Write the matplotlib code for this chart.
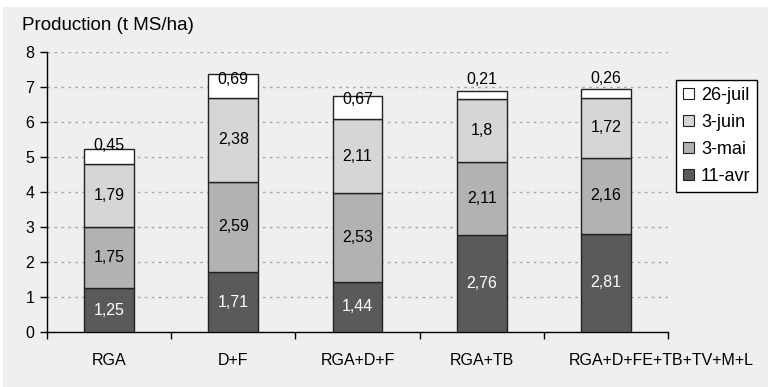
import matplotlib
matplotlib.use("Agg")
import matplotlib.pyplot as plt
from matplotlib.patches import Rectangle, Patch
import matplotlib.transforms as mtransforms
import numpy as np

plt.rcParams['font.family'] = ['Liberation Sans', 'DejaVu Sans']

categories = ["RGA", "D+F", "RGA+D+F", "RGA+TB", "RGA+D+FE+TB+TV+M+L"]
series_names = ["11-avr", "3-mai", "3-juin", "26-juil"]
avr11 = [1.25, 1.71, 1.44, 2.76, 2.81]
mai3 = [1.75, 2.59, 2.53, 2.11, 2.16]
juin3 = [1.79, 2.38, 2.11, 1.80, 1.72]
juil26 = [0.45, 0.69, 0.67, 0.21, 0.26]
# label y position for the top (26-juil) values
juil26_label_y = [5.34, 7.20, 6.63, 7.20, 7.23]
yticks = [0, 1, 2, 3, 4, 5, 6, 7, 8]

colors = ["#5A5A5A", "#B2B2B2", "#D6D6D6", "#FFFFFF"]
text_colors = ["white", "black", "black", "black"]
FS = 11.5

fig = plt.figure(figsize=(7.68, 3.87), dpi=100)
fig.patch.set_facecolor("white")
fig.patches.append(Rectangle((3/768, 0), 1 - 3/768, 1 - 7/387, transform=fig.transFigure,
                             facecolor="#EFEFEF", edgecolor="none", zorder=-10))

ax = fig.add_axes([47/768, 1 - 332/387, (668 - 47)/768, (332 - 52)/387])
ax.set_facecolor("none")

x = np.arange(len(categories))
series = [avr11, mai3, juin3, juil26]
bottom = np.zeros(len(categories))
for i, vals in enumerate(series):
    vals = np.array(vals)
    ax.bar(x, vals, width=0.4, bottom=bottom, color=colors[i], edgecolor="#222222",
           linewidth=1.0, zorder=3)
    for j, v in enumerate(vals):
        lbl = f"{v:g}".replace(".", ",")
        if i == 3:
            ypos = juil26_label_y[j]
        else:
            ypos = bottom[j] + v / 2
        ax.text(x[j], ypos, lbl, ha="center", va="center", fontsize=FS,
                color=text_colors[i], zorder=5)
    bottom += vals

ax.set_xlim(-0.5, len(categories) - 0.5)
ax.set_ylim(0, 8)
ax.set_yticks(yticks)
ax.set_yticklabels([str(t) for t in yticks], fontsize=FS)
ax.yaxis.grid(True, linestyle=(0, (2, 3)), color="#A8A8A8", linewidth=1.0, zorder=0)
ax.set_axisbelow(True)

ax.set_xticks(np.arange(len(categories) + 1) - 0.5)
ax.set_xticklabels([])
ax.set_xticks(x, minor=True)
ax.set_xticklabels(categories, minor=True, fontsize=FS)
ax.tick_params(axis="x", which="minor", length=0, pad=15)
ax.tick_params(axis="x", which="major", length=5, direction="out", width=1)
ax.tick_params(axis="y", length=5, direction="out", width=1, pad=4)
# last category label is pushed right (as in the original) to avoid overlap
last = ax.get_xticklabels(minor=True)[-1]
last.set_transform(last.get_transform() + mtransforms.ScaledTranslation(55/100, 0, fig.dpi_scale_trans))

for s in ["top", "right"]:
    ax.spines[s].set_visible(False)
ax.spines["left"].set_linewidth(1)
ax.spines["bottom"].set_linewidth(1)

fig.text(22/768, 1 - 25/387, "Production (t MS/ha)", ha="left", va="center", fontsize=13.5)

handles = [Patch(facecolor=colors[i], edgecolor="#222222", linewidth=0.8, label=series_names[i])
           for i in range(3, -1, -1)]
leg = fig.legend(handles=handles, loc="upper left", bbox_to_anchor=(676/768, 1 - 80/387),
                 frameon=True, fancybox=False, edgecolor="black", facecolor="white",
                 fontsize=13, handlelength=0.6, handleheight=0.6, handletextpad=0.4,
                 labelspacing=0.55, borderpad=0.38, borderaxespad=0, framealpha=1)
leg.get_frame().set_linewidth(1)

fig.savefig("out.png", dpi=100)
